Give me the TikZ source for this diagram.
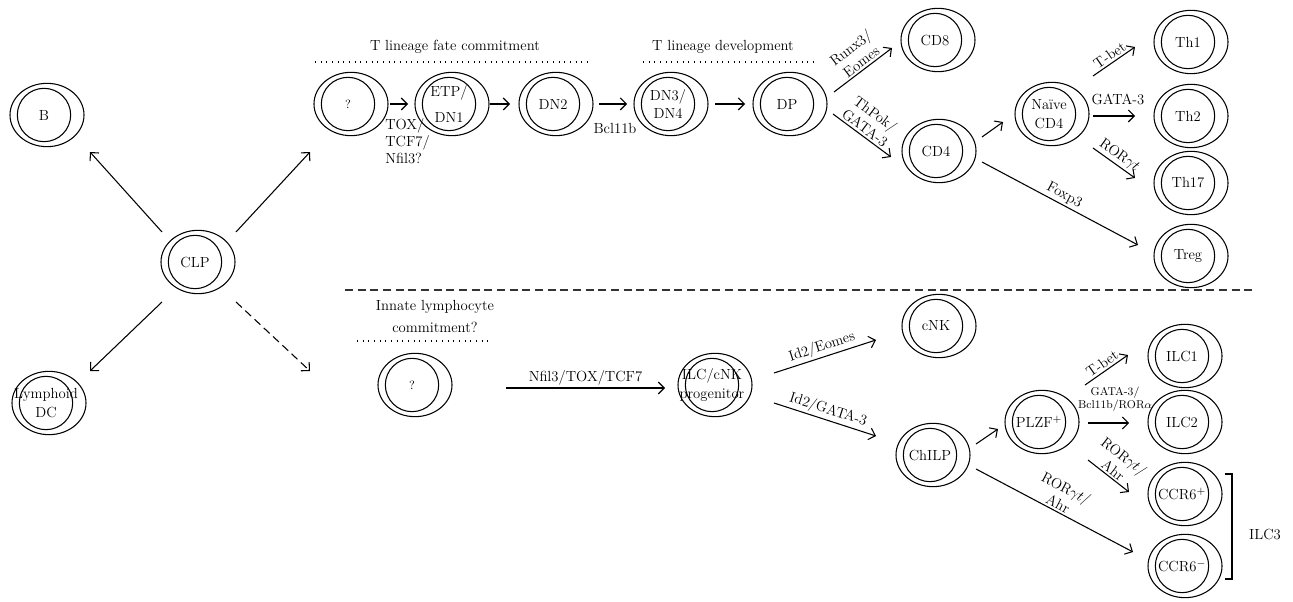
\documentclass[tikz,border=0pt]{standalone}
\usetikzlibrary{shapes.geometric,arrows.meta,calc}
\tikzset{
  cellout/.style={ellipse, draw, line width=0.8pt, minimum width=55.5pt, minimum height=47.5pt, inner sep=0pt},
  cellin/.style={circle, draw, line width=0.8pt, minimum size=40pt, inner sep=0pt},
  celltext/.style={align=center, inner sep=0pt, font=\fontsize{11}{14}\selectfont},
  arr/.style={-{Straight Barb[length=4.5pt,width=9pt]}, line width=0.8pt},
  dasharr/.style={arr, dash pattern=on 6pt off 3.5pt},
  lbl/.style={font=\fontsize{11}{13}\selectfont, align=center, inner sep=1.5pt},
  smalllbl/.style={font=\fontsize{8.5}{10}\selectfont, align=center, inner sep=1pt},
  dotline/.style={line width=0.8pt, dash pattern=on 0.7pt off 3.55pt},
  divider/.style={line width=0.8pt, draw=black!80, dash pattern=on 6pt off 3.5pt},
}
\newcommand\cellnode[3]{%
  \node[cellout] (#1) at (#2) {};
  \node[cellin] (#1i) at ([xshift=-2.25pt]#1.center) {};
  \node[celltext] (#1t) at (#1i.center) {#3};}
\begin{document}
\begin{tikzpicture}[x=0.75pt,y=-0.75pt]
\useasboundingbox (0,0) rectangle (1293,602);
% cells
\cellnode{B}{47,115}{B}
\cellnode{CLP}{198,262}{CLP}
\cellnode{LDC}{49,403}{Lymphoid\\DC}
\cellnode{QA}{351,104}{\small ?}
\cellnode{ETP}{452,104}{ETP/\\[5pt]DN1}
\cellnode{DNb}{556,104}{DN2}
\cellnode{DNc}{671,104}{DN3/\\DN4}
\cellnode{DP}{790,104}{DP}
\cellnode{CDe}{938,40}{CD8}
\cellnode{CDf}{939,151}{CD4}
\cellnode{NCD}{1052,114}{Na\"ive\\CD4}
\cellnode{ThA}{1191,42}{Th1}
\cellnode{ThB}{1191,116}{Th2}
\cellnode{ThC}{1191,183}{Th17}
\cellnode{Treg}{1191,256}{Treg}
\cellnode{QB}{415,385}{\small ?}
\cellnode{ILCP}{715,385}{ILC/cNK\\progenitor}
\cellnode{cNK}{939,326}{cNK}
\cellnode{ChILP}{933,455}{ChILP}
\cellnode{PLZF}{1042,422}{PLZF$^+$}
\cellnode{ILCa}{1185,356}{ILC1}
\cellnode{ILCb}{1185,422}{ILC2}
\cellnode{CCRp}{1185,494}{CCR6$^+$}
\cellnode{CCRm}{1185,566}{CCR6$^-$}
% headers
\node[lbl] (hA) at (455,47) {T lineage fate commitment};
\draw[dotline] (315,62) -- (590,62);
\node[lbl] (hB) at (723,47) {T lineage development};
\draw[dotline] (643,62) -- (817,62);
\node[lbl] (hC) at (435,316) {Innate lymphocyte\\[3.5pt]commitment?};
\draw[dotline] (357,341) -- (492,341);
\draw[divider] (345,290) -- (1253,290);
% CLP arrows
\draw[arr] ($(CLP)+(-36,-30)$) -- ($(B)+(43,37)$);
\draw[arr] ($(CLP)+(38,-30)$) -- ($(QA)+(-41,48)$);
\draw[arr] ($(CLP)+(-36,40)$) -- ($(LDC)+(41,-32)$);
\draw[dasharr] ($(CLP)+(38,40)$) -- ($(QB)+(-105,-14)$);
% T lineage
\draw[arr] ($(QA)+(39,0)$) -- ($(ETP)+(-44,0)$);
\node[lbl, anchor=north west, align=left] (tox) at (383,116) {TOX/\\TCF7/\\Nfil3?};
\draw[arr] ($(ETP)+(38,0)$) -- ($(DNb)+(-46,0)$);
\draw[arr] ($(DNb)+(43,0)$) -- ($(DNc)+(-44,0)$);
\node[lbl] (bcl) at (615,128) {Bcl11b};
\draw[arr] ($(DNc)+(44,0)$) -- ($(DP)+(-45,0)$);
\draw[arr] ($(DP)+(44,-12)$) -- node[lbl, above, sloped, pos=0.55] (lA) {Runx3/\\Eomes} ($(CDe)+(-46,8)$);
\draw[arr] ($(DP)+(43,10)$) -- node[lbl, above, sloped, pos=0.47] (lB) {ThPok/\\GATA-3} ($(CDf)+(-48,6)$);
\draw[arr] ($(CDf)+(43,-14)$) -- ($(NCD)+(-49,8)$);
\draw[arr] ($(NCD)+(41,-38)$) -- node[lbl, above, sloped] (lC) {T-bet} ($(ThA)+(-56,5)$);
\draw[arr] ($(NCD)+(41,2)$) -- ($(ThB)+(-56,0)$);
\node[lbl] (lD) at (1118,99) {GATA-3};
\draw[arr] ($(NCD)+(41,34)$) -- node[lbl, above, sloped] (lE) {ROR$\gamma t$} ($(ThC)+(-56,-5)$);
\draw[arr] ($(CDf)+(43,11)$) -- node[lbl, above, sloped] (lF) {Foxp3} ($(Treg)+(-53,-11)$);
% innate
\draw[arr] ($(QB)+(91,3)$) -- node[lbl, above] (lG) {Nfil3/TOX/TCF7} ($(ILCP)+(-50,3)$);
\draw[arr] ($(ILCP)+(59,-12)$) -- node[lbl, above, sloped] (lH) {Id2/Eomes} ($(cNK)+(-63,14)$);
\draw[arr] ($(ILCP)+(59,18)$) -- node[lbl, above, sloped] (lI) {Id2/GATA-3} ($(ChILP)+(-57,-19)$);
\draw[arr] ($(ChILP)+(43,-11)$) -- ($(PLZF)+(-44,7)$);
\draw[arr] ($(ChILP)+(43,14)$) -- node[lbl, above, sloped] (lJ) {ROR$\gamma t$/\\Ahr} ($(CCRm)+(-52,-14)$);
\draw[arr] ($(PLZF)+(43,-37)$) -- node[lbl, above, sloped] (lK) {T-bet} ($(ILCa)+(-57,-1)$);
\draw[arr] ($(PLZF)+(46,1)$) -- ($(ILCb)+(-56,1)$);
\node[smalllbl] (lL) at (1115,399) {GATA-3/\\Bcl11b/ROR$\alpha$};
\draw[arr] ($(PLZF)+(46,38)$) -- node[lbl, above, sloped] (lM) {ROR$\gamma t$/\\Ahr} ($(CCRp)+(-56,-2)$);
% ILC3 bracket
\coordinate (brA) at ($(CCRp)+(40,-20)$);
\coordinate (brB) at ($(CCRm)+(40,13)$);
\draw[line width=0.8pt] (brA) -- ++(7,0) coordinate (brC) -- (brC |- brB) coordinate (brD) -- (brB);
\node[lbl] (ilc3) at (1265,534) {ILC3};
\end{tikzpicture}
\end{document}
